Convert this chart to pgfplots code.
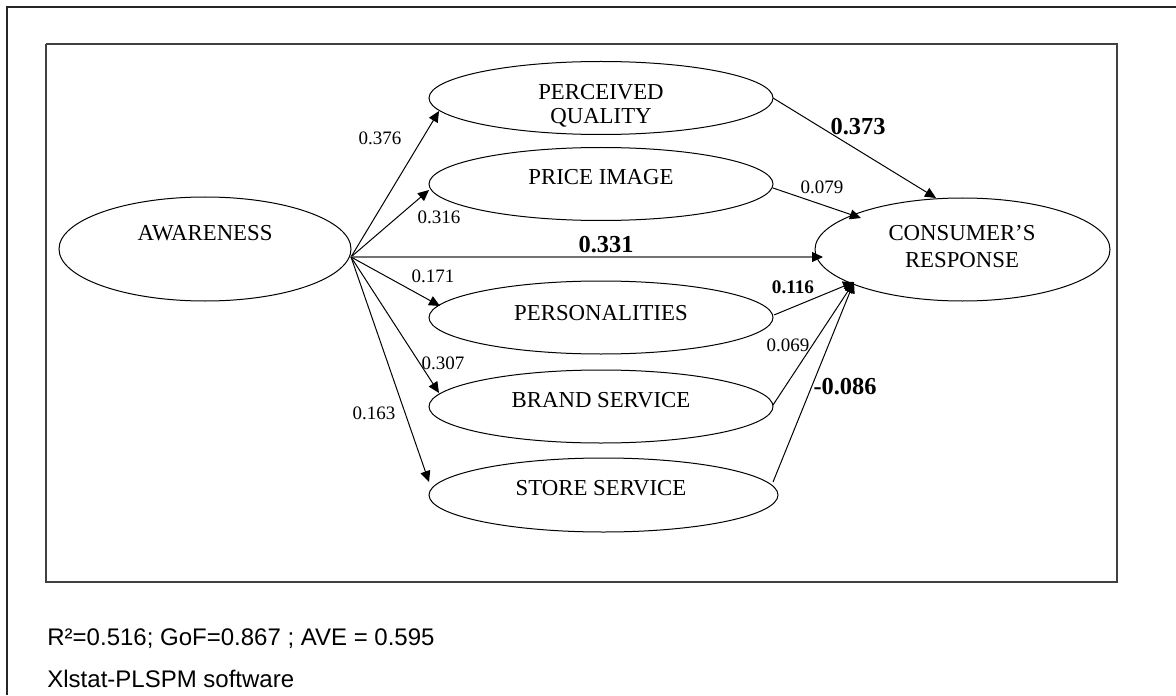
\documentclass[border=0pt]{standalone}
\usepackage{fontspec}
\setmainfont{Liberation Serif}
\newfontfamily\arial{Liberation Sans}
\usepackage{pgfplots}
\pgfplotsset{compat=1.18}
\usetikzlibrary{arrows.meta}
\tikzset{
  arr/.style={black, line width=0.5pt, -{Triangle[length=5.5pt,width=5pt]}},
  lab/.style={font=\fontsize{11.4}{13}\selectfont, inner sep=0pt},
  sm/.style={font=\fontsize{9.5}{11}\selectfont, inner sep=0pt},
  bg/.style={font=\fontsize{12.2}{14}\selectfont\bfseries, inner sep=0pt},
}
\begin{document}
\begin{tikzpicture}
\begin{axis}[scale only axis, width=588pt, height=347.5pt,
  xmin=0, xmax=1176, ymin=0, ymax=695, y dir=reverse,
  hide axis, clip=false,
]
\coordinate (bbA) at (axis cs:0,0);
\coordinate (bbB) at (axis cs:1176,695);
% outer frame
\addplot[black!85, line width=1.3pt, no marks] coordinates {(7,695) (7,7) (1176,7)};
% inner frame
\addplot[black!75, line width=0.7pt, no marks] coordinates {(46,44) (1117,44) (1117,582) (46,582) (46,44)};
% ellipses
\draw[line width=0.5pt] (axis cs:205,249) ellipse [x radius=73pt, y radius=26pt];
\draw[line width=0.5pt] (axis cs:601,98) ellipse [x radius=86pt, y radius=18.25pt];
\draw[line width=0.5pt] (axis cs:601,184) ellipse [x radius=86pt, y radius=18.25pt];
\draw[line width=0.5pt] (axis cs:601,317.5) ellipse [x radius=86pt, y radius=18.25pt];
\draw[line width=0.5pt] (axis cs:601,406.5) ellipse [x radius=86pt, y radius=18.25pt];
\draw[line width=0.5pt] (axis cs:603.5,495) ellipse [x radius=87.25pt, y radius=18.5pt];
\draw[line width=0.5pt] (axis cs:962.5,249.5) ellipse [x radius=73.75pt, y radius=25.75pt];
% ellipse texts
\node[lab] at (axis cs:205,233) {AWARENESS};
\node[lab] at (axis cs:601,92) {PERCEIVED};
\node[lab] at (axis cs:601,118) {QUALITY};
\node[lab] at (axis cs:601,177) {PRICE IMAGE};
\node[lab] at (axis cs:601,313) {PERSONALITIES};
\node[lab] at (axis cs:601,400) {BRAND SERVICE};
\node[lab] at (axis cs:601,488) {STORE SERVICE};
\node[lab] at (axis cs:962,233) {CONSUMER’S};
\node[lab] at (axis cs:962,260) {RESPONSE};
% arrows from awareness
\addplot[arr, no marks] coordinates {(351,257) (439,111)};
\addplot[arr, no marks] coordinates {(351,257) (429,190)};
\addplot[black!55, line width=1pt, no marks, -{Triangle[length=5.5pt,width=5pt,color=black,line width=0.5pt]}] coordinates {(351,257) (823,257)};
\addplot[arr, no marks] coordinates {(351,257) (440,306)};
\addplot[arr, no marks] coordinates {(351,257) (439,393)};
\addplot[arr, no marks] coordinates {(351,257) (429,482)};
% arrows to consumer
\addplot[arr, no marks] coordinates {(773,98) (936,198)};
\addplot[arr, no marks] coordinates {(773,188) (861,218)};
\addplot[arr, no marks] coordinates {(774,315) (854,282)};
\addplot[arr, no marks] coordinates {(773,405) (854,282)};
\addplot[arr, no marks] coordinates {(773,482) (854,282)};
% coefficient labels
\node[sm] at (axis cs:380,138) {0.376};
\node[sm] at (axis cs:439,217) {0.316};
\node[sm] at (axis cs:433,276) {0.171};
\node[sm] at (axis cs:443,363) {0.307};
\node[sm] at (axis cs:374,413) {0.163};
\node[sm] at (axis cs:822,187) {0.079};
\node[sm] at (axis cs:788,345) {0.069};
\node[bg] at (axis cs:858,127) {0.373};
\node[bg] at (axis cs:606,245) {0.331};
\node[bg] at (axis cs:845,387) {-0.086};
\node[font=\fontsize{9.6}{11}\selectfont\bfseries, inner sep=0pt] at (axis cs:793,287) {0.116};
% footer
\node[anchor=base west, inner sep=0pt, font=\arial\fontsize{12}{14}\selectfont] at (axis cs:47,645) {R²=0.516; GoF=0.867 ; AVE = 0.595};
\node[anchor=base west, inner sep=0pt, font=\arial\fontsize{12}{14}\selectfont] at (axis cs:47,687) {Xlstat-PLSPM software};
\end{axis}
\pgfresetboundingbox
\path (bbA) rectangle (bbB);
\end{tikzpicture}
\end{document}
